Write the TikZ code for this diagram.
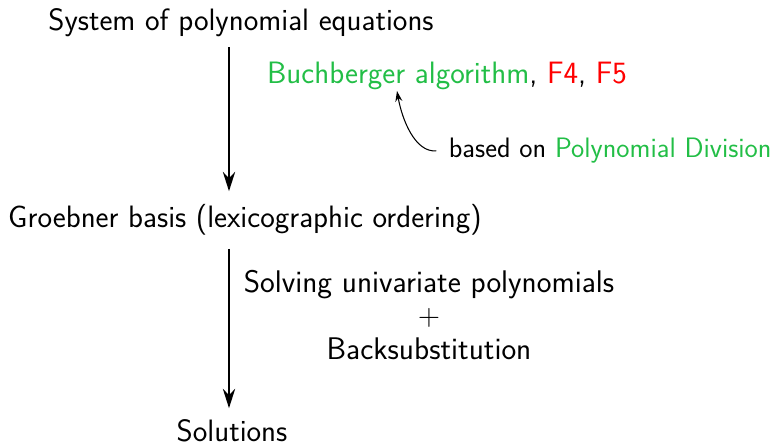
\documentclass[tikz,border=0pt]{standalone}
\usepackage{tikz}
\usetikzlibrary{arrows.meta,positioning,calc}
\definecolor{AlgoGreen}{RGB}{34,190,70}
\definecolor{AlgoRed}{RGB}{255,0,0}
\tikzset{
  stage/.style={font=\sffamily\fontsize{17.6}{21}\selectfont,inner sep=1pt,anchor=base},
  note/.style={font=\sffamily\fontsize{17.8}{19}\selectfont,inner sep=1pt,align=center},
  small/.style={font=\sffamily\fontsize{16}{18}\selectfont,inner sep=2pt,anchor=base west},
  arrow/.style={-{Stealth[length=11pt,width=7pt]},line width=1.1pt},
  curvedarrow/.style={-{Stealth[length=6pt,width=4pt]},line width=0.6pt}
}
\begin{document}
\begin{tikzpicture}[x=0.02cm,y=-0.02cm]
      \useasboundingbox (0,0) rectangle (771,443);
      \node[stage] (sys) at (241,30) {System of polynomial equations};
      \node[stage] (groeb) at (245,227) {Groebner basis (lexicographic ordering)};
      \node[stage] (sol) at (232,441) {Solutions};
      \node[stage,anchor=base west] (buch) at (265,83)
        {\textcolor{AlgoGreen}{Buchberger algorithm}, \textcolor{AlgoRed}{F4}, \textcolor{AlgoRed}{F5}};
      \node[small] (based) at (445,157)
        {based on \textcolor{AlgoGreen}{Polynomial Division}};
      \node[note] (solve) at (429,315)
        {Solving univariate polynomials\\ $+$\\ Backsubstitution};
      \coordinate (buchtip) at (397,91);
      \coordinate (a1) at (229,47);
      \draw[arrow,shorten >=6pt] (a1) -- (a1 |- groeb.north);
      \draw[arrow,shorten >=5pt] (a1 |- groeb.south) ++(0,12) coordinate (a2) -- (a2 |- sol.north);
      \draw[curvedarrow,shorten <=5pt] (based.west) to[out=185,in=-80] (buchtip);
    \end{tikzpicture}
\end{document}
